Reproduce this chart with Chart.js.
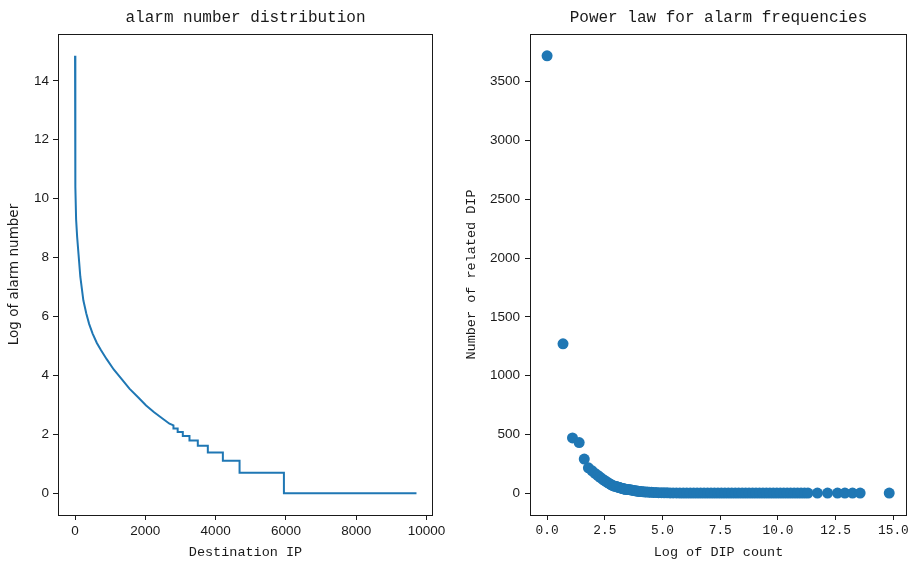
<!DOCTYPE html>
<html>
<head>
<meta charset="utf-8">
<script src="https://cdn.jsdelivr.net/npm/chart.js@4.4.0/dist/chart.umd.min.js"></script>
<style>
    html, body { margin: 0; padding: 0; background: #fff; }
    #wrap { position: relative; width: 920px; height: 564px; }
    .pane { position: absolute; top: 0; width: 460px; height: 564px; }
</style>
</head>
<body>
<div id="wrap">
    <div class="pane" style="left:0"><canvas id="alarmChart" width="460" height="564"></canvas></div>
    <div class="pane" style="left:460px"><canvas id="powerChart" width="460" height="564"></canvas></div>
</div>
<script>
// ===== Data =====
// left: log of alarm count per destination IP, sorted (curve vertices + step corners)
const dipRank = [0, 3, 8, 15, 30, 60, 100, 150, 236, 320, 400, 500, 620, 740, 900, 1100, 1357, 1547, 1800, 2022,
    2250, 2496, 2687, 2800, 2800, 2920, 2920, 3066, 3066, 3256, 3256, 3493, 3493, 3778, 3778, 4206, 4206,
    4681, 4681, 5943, 5943, 9715];
const logAlarm = [14.85, 12.5, 11.3, 10.4, 9.3, 8.7, 8.1, 7.35, 6.55, 6.1, 5.75, 5.42, 5.1, 4.85, 4.55, 4.2, 3.83, 3.55, 3.25, 2.98,
    2.75, 2.53, 2.36, 2.30, 2.197, 2.197, 2.079, 2.079, 1.946, 1.946, 1.792, 1.792, 1.609, 1.609, 1.386, 1.386, 1.099,
    1.099, 0.693, 0.693, 0, 0];
const rankTicks = [0, 2000, 4000, 6000, 8000, 10000];
const logAlarmTicks = [0, 2, 4, 6, 8, 10, 12, 14];

// right: number of destination IPs sharing each log count
const logCount = [0, 0.69, 1.10, 1.39, 1.61, 1.79, 1.95, 2.08, 2.20, 2.30, 2.40, 2.48, 2.56, 2.64, 2.71, 2.77, 2.83, 2.89, 2.94,
    3.00, 3.04, 3.09, 3.14, 3.18, 3.22, 3.26, 3.30, 3.33, 3.37, 3.40, 3.47, 3.53, 3.58, 3.64, 3.69, 3.76, 3.83, 3.89, 3.95,
    4.01, 4.09, 4.17, 4.25, 4.34, 4.43, 4.52, 4.61, 4.72, 4.83, 4.95, 5.07, 5.20, 5.33, 5.46, 5.60,
    5.75, 5.90, 6.05, 6.20, 6.35, 6.50, 6.65, 6.80, 6.95, 7.10, 7.25, 7.40, 7.55, 7.70, 7.85, 8.00, 8.15, 8.30,
    8.45, 8.60, 8.75, 8.90, 9.05, 9.20, 9.35, 9.50, 9.65, 9.80, 9.95, 10.10, 10.25, 10.40, 10.55, 10.70, 10.85,
    11.00, 11.15, 11.30, 11.71, 12.15, 12.58, 12.90, 13.23, 13.56, 14.82];
const dipNumber = [3720, 1270, 470, 430, 290, 215, 190, 168, 150, 135, 120, 108, 98, 88, 80, 72, 66, 61, 58,
    57, 53, 50, 47, 44, 42, 40, 38, 36, 35, 33, 31, 30, 29, 27, 25, 22, 20, 18, 16,
    14, 13, 11, 10, 9, 8, 7, 6, 5, 4, 4, 3, 3, 2, 2, 2,
    1, 1, 1, 1, 1, 1, 1, 1, 1, 1, 1, 1, 1, 1, 1, 1, 1, 1,
    1, 1, 1, 1, 1, 1, 1, 1, 1, 1, 1, 1, 1, 1, 1, 1, 1,
    1, 1, 1, 1, 1, 1, 1, 1, 1, 1];
const logCountTicks = [0, 2.5, 5, 7.5, 10, 12.5, 15];
const dipNumberTicks = [0, 500, 1000, 1500, 2000, 2500, 3000, 3500];

// ===== Shared look =====
const BLUE = '#1f77b4';
const INK = '#1a1a1a';
const sansTick = { family: '"Liberation Sans", Arial, sans-serif', size: 13.5 };
const monoTick = { family: '"Liberation Mono", monospace', size: 12.8 };
const monoLabel = { family: '"Liberation Mono", monospace', size: 13.5 };

// box round the axes + title centred over the plot area
const framePlugin = {
    id: 'frame',
    afterDraw(chart, args, opts) {
        const { ctx, chartArea: a } = chart;
        ctx.save();
        ctx.strokeStyle = INK;
        ctx.lineWidth = 1;
        ctx.strokeRect(a.left + 0.5, a.top + 0.5, a.right - a.left - 1, a.bottom - a.top);
        ctx.fillStyle = INK;
        ctx.font = '16px "Liberation Mono", monospace';
        ctx.textAlign = 'center';
        ctx.textBaseline = 'middle';
        ctx.fillText(opts.text, (a.left + a.right) / 2, 18);
        ctx.restore();
    }
};

function axis(min, max, tickList, fmt, font, pad, size, title, titleFont, titlePad, horizontal) {
    return {
        type: 'linear',
        position: horizontal ? 'bottom' : 'left',
        min, max,
        afterBuildTicks: s => { s.ticks = tickList.map(v => ({ value: v })); },
        afterFit: s => { if (horizontal) s.height = size; else s.width = size; },
        grid: { drawOnChartArea: false, drawTicks: true, tickLength: 5, color: INK },
        border: { display: false },
        ticks: { color: INK, font, padding: pad, autoSkip: false, maxRotation: 0, callback: fmt },
        title: { display: true, text: title, color: INK, font: titleFont, padding: titlePad }
    };
}

// ===== Left: alarm number distribution =====
new Chart(document.getElementById('alarmChart'), {
    type: 'line',
    data: {
        datasets: [{
            data: dipRank.map((x, i) => ({ x, y: logAlarm[i] })),
            borderColor: BLUE,
            borderWidth: 2,
            pointRadius: 0,
            tension: 0,
            fill: false
        }]
    },
    options: {
        responsive: false,
        animation: false,
        devicePixelRatio: 1,
        layout: { padding: { top: 34, right: 27, bottom: 0, left: 0 } },
        plugins: { legend: { display: false }, tooltip: { enabled: false }, frame: { text: 'alarm number distribution' } },
        scales: {
            x: axis(-485, 10185, rankTicks, v => String(v), sansTick, 3, 49,
                'Destination IP', monoLabel, { top: 0, bottom: 3 }, true),
            y: axis(-0.74, 15.59, logAlarmTicks, v => String(v), sansTick, 4, 58,
                'Log of alarm number', { family: '"DejaVu Sans", sans-serif', size: 13.5 }, { top: 6, bottom: 0 }, false)
        }
    },
    plugins: [framePlugin]
});

// ===== Right: power law for alarm frequencies =====
new Chart(document.getElementById('powerChart'), {
    type: 'scatter',
    data: {
        datasets: [{
            data: logCount.map((x, i) => ({ x, y: dipNumber[i] })),
            backgroundColor: BLUE,
            borderWidth: 0,
            pointRadius: 5.5,
            pointHoverRadius: 5.5
        }]
    },
    options: {
        responsive: false,
        animation: false,
        devicePixelRatio: 1,
        layout: { padding: { top: 34, right: 13, bottom: 0, left: 0 } },
        plugins: { legend: { display: false }, tooltip: { enabled: false }, frame: { text: 'Power law for alarm frequencies' } },
        scales: {
            x: axis(-0.74, 15.59, logCountTicks, v => v.toFixed(1), monoTick, 3, 49,
                'Log of DIP count', monoLabel, { top: 0, bottom: 3 }, true),
            y: axis(-186, 3906, dipNumberTicks, v => String(v), sansTick, 5, 70,
                'Number of related DIP', monoLabel, { top: 3, bottom: 0 }, false)
        }
    },
    plugins: [framePlugin]
});
</script>
</body>
</html>
